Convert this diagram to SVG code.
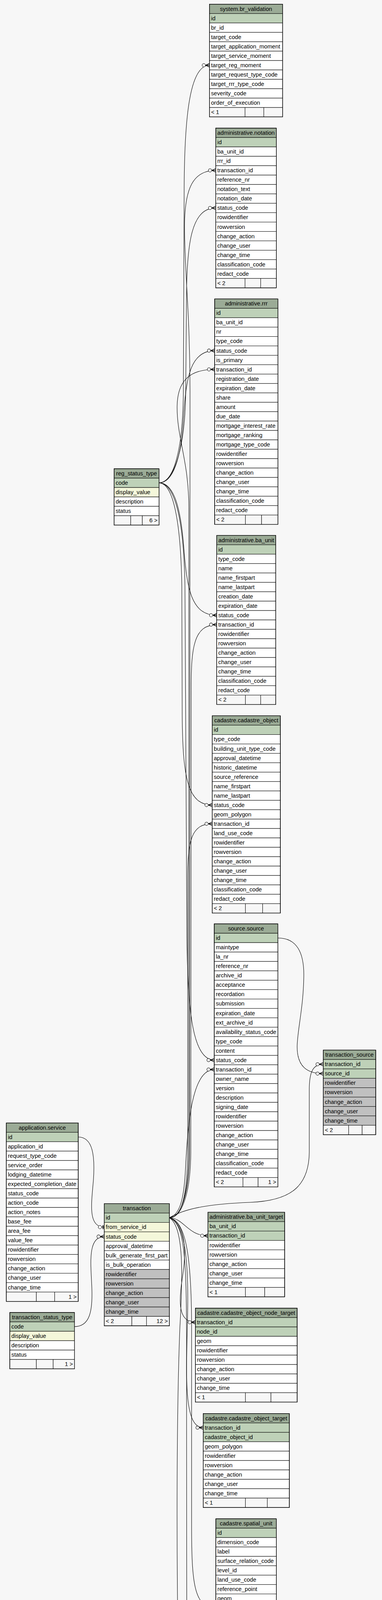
<svg xmlns="http://www.w3.org/2000/svg" width="977" height="5081" viewBox="0 0 977 5081">
<style>
text{font-family:"Liberation Sans",Arial,Helvetica,sans-serif;font-size:14.67px;fill:#000}
.c{text-anchor:middle}.r{text-anchor:end}
rect{stroke:#000;stroke-width:1}
.h{fill:#9bab96}.pk{fill:#bed1b8}.ix{fill:#f4f7da}.w{fill:#fff}.g{fill:#c0c0c0}.f{fill:#f7f7f7}
.o{fill:none;stroke:#000;stroke-width:1.4}
#edges path{fill:none;stroke:#000;stroke-width:1.1}
.cf{marker-end:url(#crow)}.te{marker-end:url(#tee)}
</style>
<defs>
<marker id="crow" markerUnits="userSpaceOnUse" markerWidth="24" markerHeight="12" viewBox="-20 -6 24 12" refX="0" refY="0" orient="auto" overflow="visible">
<path d="M-10,0L0,-4.5M-10,0L0,0M-10,0L0,4.5" fill="none" stroke="#000" stroke-width="1.4"/>
<circle cx="-14.5" cy="0" r="4.2" fill="#fff" stroke="#000" stroke-width="1.1"/>
</marker>
<marker id="tee" markerUnits="userSpaceOnUse" markerWidth="24" markerHeight="12" viewBox="-20 -6 24 12" refX="0" refY="0" orient="auto" overflow="visible">
<path d="M-3,-5V5" fill="none" stroke="#000" stroke-width="2.2"/>
<circle cx="-11" cy="0" r="4.2" fill="#fff" stroke="#000" stroke-width="1.1"/>
</marker>
</defs>
<rect x="0" y="0" width="977" height="5081" fill="#f7f7f7" style="stroke:none"/>

<g id="edges">
<path class="cf" d="M406.7,1236.1C445,1236 468,1150 469,1000L471,480C472,300 485,167 535.7,167"/>
<path class="cf" d="M406.7,1236.1C447,1236 474,1140 475,1000L477,760C478,620 490,532.4 551.7,532.4"/>
<path class="cf" d="M406.7,1236.1C450,1236 465,1150 470,1060C476,960 490,897.6 549,897.6"/>
<path class="cf" d="M406.7,1236.1C445,1236 462,1300 470,1400C478,1510 490,1575 554.3,1575"/>
<path class="cf" d="M406.7,1236.1C440,1236 462,1320 465,1500L466,1830C467,1990 480,2060.9 542.7,2060.9"/>
<path class="cf" d="M406.7,1236.1C445,1236 470,1320 473,1500L478,2400C480,2600 495,2713.8 547.9,2713.8"/>
<path class="cf" d="M433.3,3117.5C462,3117 484,3060 485,2950L486,1000C486,800 472,700 472,580C472,480 495,436.2 551.7,436.2"/>
<path class="cf" d="M433.3,3117.5C463,3117 482,3060 483,2950L483,1300C483,1180 452,1120 453,1040C454,970 490,945.7 549,945.7"/>
<path class="cf" d="M433.3,3117.5C464,3117 487,3060 488,2950L489,1760C489,1660 495,1599.1 554.3,1599.1"/>
<path class="cf" d="M433.3,3117.5C465,3117 479,3060 480,2950L480,2250C480,2150 490,2108.9 542.7,2108.9"/>
<path class="cf" d="M433.3,3117.5C460,3110 470,3070 474,3000C480,2880 490,2737.9 547.9,2737.9"/>
<path class="cf" d="M433.3,3117.5C475,3092 540,3082 640,3078C740,3074 790,3040 791,2950L791,2790C791,2745 800,2724.4 826.7,2724.4"/>
<path class="cf" d="M433.3,3117.5C470,3118 480,3163.5 531.7,3163.5"/>
<path class="cf" d="M433.3,3117.5C470,3128 478,3190 468,3260C459,3320 450,3385 499.7,3385"/>
<path class="cf" d="M433.3,3117.5C468,3130 482,3200 480,3350C478,3500 465,3654.8 519.7,3654.8"/>
<path class="cf" d="M433.3,3117.5C472,3125 490,3200 490,3400L490,3900C490,4050 495,4116.6 552,4116.6"/>
<path class="cf" d="M433.3,3117.5C470,3140 468,3260 460,3400C452,3600 452,3900 454,4100C456,4280 465,4361.8 502.7,4361.8"/>
<path class="cf" d="M433.3,3117.5C468,3130 477,3200 477,3400L478,4600C479,4700 495,4750.4 553.6,4750.4"/>
<path class="te" d="M200.1,2910.8C238,2911 243,2960 239,3020C234,3080 224,3141.5 266.6,3141.5"/>
<path class="cf" d="M190.5,3396.1C228,3396 237,3360 235,3300C233,3240 222,3165.6 266.6,3165.6"/>
<path class="cf" d="M710.6,2401.2C760,2401 778,2440 777,2500C776,2580 760,2640 760,2680C760,2730 785,2748.4 826.7,2748.4"/>
</g>

<g id="system.br_validation" transform="translate(535.7,10.7)">
<rect class="h" x="0" y="0" width="187" height="24.05"/><text class="c" x="93.5" y="17">system.br_validation</text>
<rect class="pk" x="0" y="24.05" width="187" height="24.05"/><text x="4" y="41.05">id</text>
<rect class="w" x="0" y="48.1" width="187" height="24.05"/><text x="4" y="65.1">br_id</text>
<rect class="w" x="0" y="72.15" width="187" height="24.05"/><text x="4" y="89.15">target_code</text>
<rect class="w" x="0" y="96.2" width="187" height="24.05"/><text x="4" y="113.2">target_application_moment</text>
<rect class="w" x="0" y="120.25" width="187" height="24.05"/><text x="4" y="137.25">target_service_moment</text>
<rect class="w" x="0" y="144.3" width="187" height="24.05"/><text x="4" y="161.3">target_reg_moment</text>
<rect class="w" x="0" y="168.35" width="187" height="24.05"/><text x="4" y="185.35">target_request_type_code</text>
<rect class="w" x="0" y="192.4" width="187" height="24.05"/><text x="4" y="209.4">target_rrr_type_code</text>
<rect class="w" x="0" y="216.45" width="187" height="24.05"/><text x="4" y="233.45">severity_code</text>
<rect class="w" x="0" y="240.5" width="187" height="24.05"/><text x="4" y="257.5">order_of_execution</text>
<rect class="f" x="0" y="264.55" width="91" height="24.05"/><rect class="f" x="91" y="264.55" width="48" height="24.05"/><rect class="f" x="139" y="264.55" width="48" height="24.05"/><text x="4" y="281.55">&lt; 1</text>
<rect class="o" x="0" y="0" width="187" height="288.6"/>
</g>

<g id="administrative.notation" transform="translate(551.7,328)">
<rect class="h" x="0" y="0" width="155" height="24.05"/><text class="c" x="77.5" y="17">administrative.notation</text>
<rect class="pk" x="0" y="24.05" width="155" height="24.05"/><text x="4" y="41.05">id</text>
<rect class="w" x="0" y="48.1" width="155" height="24.05"/><text x="4" y="65.1">ba_unit_id</text>
<rect class="w" x="0" y="72.15" width="155" height="24.05"/><text x="4" y="89.15">rrr_id</text>
<rect class="w" x="0" y="96.2" width="155" height="24.05"/><text x="4" y="113.2">transaction_id</text>
<rect class="w" x="0" y="120.25" width="155" height="24.05"/><text x="4" y="137.25">reference_nr</text>
<rect class="w" x="0" y="144.3" width="155" height="24.05"/><text x="4" y="161.3">notation_text</text>
<rect class="w" x="0" y="168.35" width="155" height="24.05"/><text x="4" y="185.35">notation_date</text>
<rect class="w" x="0" y="192.4" width="155" height="24.05"/><text x="4" y="209.4">status_code</text>
<rect class="w" x="0" y="216.45" width="155" height="24.05"/><text x="4" y="233.45">rowidentifier</text>
<rect class="w" x="0" y="240.5" width="155" height="24.05"/><text x="4" y="257.5">rowversion</text>
<rect class="w" x="0" y="264.55" width="155" height="24.05"/><text x="4" y="281.55">change_action</text>
<rect class="w" x="0" y="288.6" width="155" height="24.05"/><text x="4" y="305.6">change_user</text>
<rect class="w" x="0" y="312.65" width="155" height="24.05"/><text x="4" y="329.65">change_time</text>
<rect class="w" x="0" y="336.7" width="155" height="24.05"/><text x="4" y="353.7">classification_code</text>
<rect class="w" x="0" y="360.75" width="155" height="24.05"/><text x="4" y="377.75">redact_code</text>
<rect class="f" x="0" y="384.8" width="75" height="24.05"/><rect class="f" x="75" y="384.8" width="40" height="24.05"/><rect class="f" x="115" y="384.8" width="40" height="24.05"/><text x="4" y="401.8">&lt; 2</text>
<rect class="o" x="0" y="0" width="155" height="408.85"/>
</g>

<g id="administrative.rrr" transform="translate(549,765.3)">
<rect class="h" x="0" y="0" width="161.7" height="24.05"/><text class="c" x="80.85" y="17">administrative.rrr</text>
<rect class="pk" x="0" y="24.05" width="161.7" height="24.05"/><text x="4" y="41.05">id</text>
<rect class="w" x="0" y="48.1" width="161.7" height="24.05"/><text x="4" y="65.1">ba_unit_id</text>
<rect class="w" x="0" y="72.15" width="161.7" height="24.05"/><text x="4" y="89.15">nr</text>
<rect class="w" x="0" y="96.2" width="161.7" height="24.05"/><text x="4" y="113.2">type_code</text>
<rect class="w" x="0" y="120.25" width="161.7" height="24.05"/><text x="4" y="137.25">status_code</text>
<rect class="w" x="0" y="144.3" width="161.7" height="24.05"/><text x="4" y="161.3">is_primary</text>
<rect class="w" x="0" y="168.35" width="161.7" height="24.05"/><text x="4" y="185.35">transaction_id</text>
<rect class="w" x="0" y="192.4" width="161.7" height="24.05"/><text x="4" y="209.4">registration_date</text>
<rect class="w" x="0" y="216.45" width="161.7" height="24.05"/><text x="4" y="233.45">expiration_date</text>
<rect class="w" x="0" y="240.5" width="161.7" height="24.05"/><text x="4" y="257.5">share</text>
<rect class="w" x="0" y="264.55" width="161.7" height="24.05"/><text x="4" y="281.55">amount</text>
<rect class="w" x="0" y="288.6" width="161.7" height="24.05"/><text x="4" y="305.6">due_date</text>
<rect class="w" x="0" y="312.65" width="161.7" height="24.05"/><text x="4" y="329.65">mortgage_interest_rate</text>
<rect class="w" x="0" y="336.7" width="161.7" height="24.05"/><text x="4" y="353.7">mortgage_ranking</text>
<rect class="w" x="0" y="360.75" width="161.7" height="24.05"/><text x="4" y="377.75">mortgage_type_code</text>
<rect class="w" x="0" y="384.8" width="161.7" height="24.05"/><text x="4" y="401.8">rowidentifier</text>
<rect class="w" x="0" y="408.85" width="161.7" height="24.05"/><text x="4" y="425.85">rowversion</text>
<rect class="w" x="0" y="432.9" width="161.7" height="24.05"/><text x="4" y="449.9">change_action</text>
<rect class="w" x="0" y="456.95" width="161.7" height="24.05"/><text x="4" y="473.95">change_user</text>
<rect class="w" x="0" y="481" width="161.7" height="24.05"/><text x="4" y="498">change_time</text>
<rect class="w" x="0" y="505.05" width="161.7" height="24.05"/><text x="4" y="522.05">classification_code</text>
<rect class="w" x="0" y="529.1" width="161.7" height="24.05"/><text x="4" y="546.1">redact_code</text>
<rect class="f" x="0" y="553.15" width="78.7" height="24.05"/><rect class="f" x="78.7" y="553.15" width="41.3" height="24.05"/><rect class="f" x="120" y="553.15" width="41.7" height="24.05"/><text x="4" y="570.15">&lt; 2</text>
<rect class="o" x="0" y="0" width="161.7" height="577.2"/>
</g>

<g id="reg_status_type" transform="translate(291.7,1200)">
<rect class="h" x="0" y="0" width="115" height="24.05"/><text class="c" x="57.5" y="17">reg_status_type</text>
<rect class="pk" x="0" y="24.05" width="115" height="24.05"/><text x="4" y="41.05">code</text>
<rect class="ix" x="0" y="48.1" width="115" height="24.05"/><text x="4" y="65.1">display_value</text>
<rect class="w" x="0" y="72.15" width="115" height="24.05"/><text x="4" y="89.15">description</text>
<rect class="w" x="0" y="96.2" width="115" height="24.05"/><text x="4" y="113.2">status</text>
<rect class="f" x="0" y="120.25" width="42.6" height="24.05"/><rect class="f" x="42.6" y="120.25" width="29.7" height="24.05"/><rect class="f" x="72.3" y="120.25" width="42.7" height="24.05"/><text class="r" x="111" y="137.25">6 &gt;</text>
<rect class="o" x="0" y="0" width="115" height="144.3"/>
</g>

<g id="administrative.ba_unit" transform="translate(554.3,1370.6)">
<rect class="h" x="0" y="0" width="151" height="24.05"/><text class="c" x="75.5" y="17">administrative.ba_unit</text>
<rect class="pk" x="0" y="24.05" width="151" height="24.05"/><text x="4" y="41.05">id</text>
<rect class="w" x="0" y="48.1" width="151" height="24.05"/><text x="4" y="65.1">type_code</text>
<rect class="w" x="0" y="72.15" width="151" height="24.05"/><text x="4" y="89.15">name</text>
<rect class="w" x="0" y="96.2" width="151" height="24.05"/><text x="4" y="113.2">name_firstpart</text>
<rect class="w" x="0" y="120.25" width="151" height="24.05"/><text x="4" y="137.25">name_lastpart</text>
<rect class="w" x="0" y="144.3" width="151" height="24.05"/><text x="4" y="161.3">creation_date</text>
<rect class="w" x="0" y="168.35" width="151" height="24.05"/><text x="4" y="185.35">expiration_date</text>
<rect class="w" x="0" y="192.4" width="151" height="24.05"/><text x="4" y="209.4">status_code</text>
<rect class="w" x="0" y="216.45" width="151" height="24.05"/><text x="4" y="233.45">transaction_id</text>
<rect class="w" x="0" y="240.5" width="151" height="24.05"/><text x="4" y="257.5">rowidentifier</text>
<rect class="w" x="0" y="264.55" width="151" height="24.05"/><text x="4" y="281.55">rowversion</text>
<rect class="w" x="0" y="288.6" width="151" height="24.05"/><text x="4" y="305.6">change_action</text>
<rect class="w" x="0" y="312.65" width="151" height="24.05"/><text x="4" y="329.65">change_user</text>
<rect class="w" x="0" y="336.7" width="151" height="24.05"/><text x="4" y="353.7">change_time</text>
<rect class="w" x="0" y="360.75" width="151" height="24.05"/><text x="4" y="377.75">classification_code</text>
<rect class="w" x="0" y="384.8" width="151" height="24.05"/><text x="4" y="401.8">redact_code</text>
<rect class="f" x="0" y="408.85" width="73.4" height="24.05"/><rect class="f" x="73.4" y="408.85" width="39" height="24.05"/><rect class="f" x="112.4" y="408.85" width="38.6" height="24.05"/><text x="4" y="425.85">&lt; 2</text>
<rect class="o" x="0" y="0" width="151" height="432.9"/>
</g>

<g id="cadastre.cadastre_object" transform="translate(542.7,1832.4)">
<rect class="h" x="0" y="0" width="174.3" height="24.05"/><text class="c" x="87.15" y="17">cadastre.cadastre_object</text>
<rect class="pk" x="0" y="24.05" width="174.3" height="24.05"/><text x="4" y="41.05">id</text>
<rect class="w" x="0" y="48.1" width="174.3" height="24.05"/><text x="4" y="65.1">type_code</text>
<rect class="w" x="0" y="72.15" width="174.3" height="24.05"/><text x="4" y="89.15">building_unit_type_code</text>
<rect class="w" x="0" y="96.2" width="174.3" height="24.05"/><text x="4" y="113.2">approval_datetime</text>
<rect class="w" x="0" y="120.25" width="174.3" height="24.05"/><text x="4" y="137.25">historic_datetime</text>
<rect class="w" x="0" y="144.3" width="174.3" height="24.05"/><text x="4" y="161.3">source_reference</text>
<rect class="w" x="0" y="168.35" width="174.3" height="24.05"/><text x="4" y="185.35">name_firstpart</text>
<rect class="w" x="0" y="192.4" width="174.3" height="24.05"/><text x="4" y="209.4">name_lastpart</text>
<rect class="w" x="0" y="216.45" width="174.3" height="24.05"/><text x="4" y="233.45">status_code</text>
<rect class="w" x="0" y="240.5" width="174.3" height="24.05"/><text x="4" y="257.5">geom_polygon</text>
<rect class="w" x="0" y="264.55" width="174.3" height="24.05"/><text x="4" y="281.55">transaction_id</text>
<rect class="w" x="0" y="288.6" width="174.3" height="24.05"/><text x="4" y="305.6">land_use_code</text>
<rect class="w" x="0" y="312.65" width="174.3" height="24.05"/><text x="4" y="329.65">rowidentifier</text>
<rect class="w" x="0" y="336.7" width="174.3" height="24.05"/><text x="4" y="353.7">rowversion</text>
<rect class="w" x="0" y="360.75" width="174.3" height="24.05"/><text x="4" y="377.75">change_action</text>
<rect class="w" x="0" y="384.8" width="174.3" height="24.05"/><text x="4" y="401.8">change_user</text>
<rect class="w" x="0" y="408.85" width="174.3" height="24.05"/><text x="4" y="425.85">change_time</text>
<rect class="w" x="0" y="432.9" width="174.3" height="24.05"/><text x="4" y="449.9">classification_code</text>
<rect class="w" x="0" y="456.95" width="174.3" height="24.05"/><text x="4" y="473.95">redact_code</text>
<rect class="f" x="0" y="481" width="85" height="24.05"/><rect class="f" x="85" y="481" width="44" height="24.05"/><rect class="f" x="129" y="481" width="45.3" height="24.05"/><text x="4" y="498">&lt; 2</text>
<rect class="o" x="0" y="0" width="174.3" height="505.05"/>
</g>

<g id="source.source" transform="translate(547.9,2365.1)">
<rect class="h" x="0" y="0" width="162.7" height="24.05"/><text class="c" x="81.35" y="17">source.source</text>
<rect class="pk" x="0" y="24.05" width="162.7" height="24.05"/><text x="4" y="41.05">id</text>
<rect class="w" x="0" y="48.1" width="162.7" height="24.05"/><text x="4" y="65.1">maintype</text>
<rect class="w" x="0" y="72.15" width="162.7" height="24.05"/><text x="4" y="89.15">la_nr</text>
<rect class="w" x="0" y="96.2" width="162.7" height="24.05"/><text x="4" y="113.2">reference_nr</text>
<rect class="w" x="0" y="120.25" width="162.7" height="24.05"/><text x="4" y="137.25">archive_id</text>
<rect class="w" x="0" y="144.3" width="162.7" height="24.05"/><text x="4" y="161.3">acceptance</text>
<rect class="w" x="0" y="168.35" width="162.7" height="24.05"/><text x="4" y="185.35">recordation</text>
<rect class="w" x="0" y="192.4" width="162.7" height="24.05"/><text x="4" y="209.4">submission</text>
<rect class="w" x="0" y="216.45" width="162.7" height="24.05"/><text x="4" y="233.45">expiration_date</text>
<rect class="w" x="0" y="240.5" width="162.7" height="24.05"/><text x="4" y="257.5">ext_archive_id</text>
<rect class="w" x="0" y="264.55" width="162.7" height="24.05"/><text x="4" y="281.55">availability_status_code</text>
<rect class="w" x="0" y="288.6" width="162.7" height="24.05"/><text x="4" y="305.6">type_code</text>
<rect class="w" x="0" y="312.65" width="162.7" height="24.05"/><text x="4" y="329.65">content</text>
<rect class="w" x="0" y="336.7" width="162.7" height="24.05"/><text x="4" y="353.7">status_code</text>
<rect class="w" x="0" y="360.75" width="162.7" height="24.05"/><text x="4" y="377.75">transaction_id</text>
<rect class="w" x="0" y="384.8" width="162.7" height="24.05"/><text x="4" y="401.8">owner_name</text>
<rect class="w" x="0" y="408.85" width="162.7" height="24.05"/><text x="4" y="425.85">version</text>
<rect class="w" x="0" y="432.9" width="162.7" height="24.05"/><text x="4" y="449.9">description</text>
<rect class="w" x="0" y="456.95" width="162.7" height="24.05"/><text x="4" y="473.95">signing_date</text>
<rect class="w" x="0" y="481" width="162.7" height="24.05"/><text x="4" y="498">rowidentifier</text>
<rect class="w" x="0" y="505.05" width="162.7" height="24.05"/><text x="4" y="522.05">rowversion</text>
<rect class="w" x="0" y="529.1" width="162.7" height="24.05"/><text x="4" y="546.1">change_action</text>
<rect class="w" x="0" y="553.15" width="162.7" height="24.05"/><text x="4" y="570.15">change_user</text>
<rect class="w" x="0" y="577.2" width="162.7" height="24.05"/><text x="4" y="594.2">change_time</text>
<rect class="w" x="0" y="601.25" width="162.7" height="24.05"/><text x="4" y="618.25">classification_code</text>
<rect class="w" x="0" y="625.3" width="162.7" height="24.05"/><text x="4" y="642.3">redact_code</text>
<rect class="f" x="0" y="649.35" width="73.5" height="24.05"/><rect class="f" x="73.5" y="649.35" width="38.7" height="24.05"/><rect class="f" x="112.2" y="649.35" width="50.5" height="24.05"/><text x="4" y="666.35">&lt; 2</text><text class="r" x="158.7" y="666.35">1 &gt;</text>
<rect class="o" x="0" y="0" width="162.7" height="673.4"/>
</g>

<g id="transaction_source" transform="translate(826.7,2688.3)">
<rect class="h" x="0" y="0" width="134.3" height="24.05"/><text class="c" x="67.15" y="17">transaction_source</text>
<rect class="pk" x="0" y="24.05" width="134.3" height="24.05"/><text x="4" y="41.05">transaction_id</text>
<rect class="pk" x="0" y="48.1" width="134.3" height="24.05"/><text x="4" y="65.1">source_id</text>
<rect class="g" x="0" y="72.15" width="134.3" height="24.05"/><text x="4" y="89.15">rowidentifier</text>
<rect class="g" x="0" y="96.2" width="134.3" height="24.05"/><text x="4" y="113.2">rowversion</text>
<rect class="g" x="0" y="120.25" width="134.3" height="24.05"/><text x="4" y="137.25">change_action</text>
<rect class="g" x="0" y="144.3" width="134.3" height="24.05"/><text x="4" y="161.3">change_user</text>
<rect class="g" x="0" y="168.35" width="134.3" height="24.05"/><text x="4" y="185.35">change_time</text>
<rect class="f" x="0" y="192.4" width="65" height="24.05"/><rect class="f" x="65" y="192.4" width="34.5" height="24.05"/><rect class="f" x="99.5" y="192.4" width="34.8" height="24.05"/><text x="4" y="209.4">&lt; 2</text>
<rect class="o" x="0" y="0" width="134.3" height="216.45"/>
</g>

<g id="application.service" transform="translate(16.2,2874.7)">
<rect class="h" x="0" y="0" width="183.9" height="24.05"/><text class="c" x="91.95" y="17">application.service</text>
<rect class="pk" x="0" y="24.05" width="183.9" height="24.05"/><text x="4" y="41.05">id</text>
<rect class="w" x="0" y="48.1" width="183.9" height="24.05"/><text x="4" y="65.1">application_id</text>
<rect class="w" x="0" y="72.15" width="183.9" height="24.05"/><text x="4" y="89.15">request_type_code</text>
<rect class="w" x="0" y="96.2" width="183.9" height="24.05"/><text x="4" y="113.2">service_order</text>
<rect class="w" x="0" y="120.25" width="183.9" height="24.05"/><text x="4" y="137.25">lodging_datetime</text>
<rect class="w" x="0" y="144.3" width="183.9" height="24.05"/><text x="4" y="161.3">expected_completion_date</text>
<rect class="w" x="0" y="168.35" width="183.9" height="24.05"/><text x="4" y="185.35">status_code</text>
<rect class="w" x="0" y="192.4" width="183.9" height="24.05"/><text x="4" y="209.4">action_code</text>
<rect class="w" x="0" y="216.45" width="183.9" height="24.05"/><text x="4" y="233.45">action_notes</text>
<rect class="w" x="0" y="240.5" width="183.9" height="24.05"/><text x="4" y="257.5">base_fee</text>
<rect class="w" x="0" y="264.55" width="183.9" height="24.05"/><text x="4" y="281.55">area_fee</text>
<rect class="w" x="0" y="288.6" width="183.9" height="24.05"/><text x="4" y="305.6">value_fee</text>
<rect class="w" x="0" y="312.65" width="183.9" height="24.05"/><text x="4" y="329.65">rowidentifier</text>
<rect class="w" x="0" y="336.7" width="183.9" height="24.05"/><text x="4" y="353.7">rowversion</text>
<rect class="w" x="0" y="360.75" width="183.9" height="24.05"/><text x="4" y="377.75">change_action</text>
<rect class="w" x="0" y="384.8" width="183.9" height="24.05"/><text x="4" y="401.8">change_user</text>
<rect class="w" x="0" y="408.85" width="183.9" height="24.05"/><text x="4" y="425.85">change_time</text>
<rect class="f" x="0" y="432.9" width="76.8" height="24.05"/><rect class="f" x="76.8" y="432.9" width="46.8" height="24.05"/><rect class="f" x="123.6" y="432.9" width="60.3" height="24.05"/><text class="r" x="179.9" y="449.9">1 &gt;</text>
<rect class="o" x="0" y="0" width="183.9" height="456.95"/>
</g>

<g id="transaction_status_type" transform="translate(25.1,3360)">
<rect class="h" x="0" y="0" width="165.4" height="24.05"/><text class="c" x="82.7" y="17">transaction_status_type</text>
<rect class="pk" x="0" y="24.05" width="165.4" height="24.05"/><text x="4" y="41.05">code</text>
<rect class="ix" x="0" y="48.1" width="165.4" height="24.05"/><text x="4" y="65.1">display_value</text>
<rect class="w" x="0" y="72.15" width="165.4" height="24.05"/><text x="4" y="89.15">description</text>
<rect class="w" x="0" y="96.2" width="165.4" height="24.05"/><text x="4" y="113.2">status</text>
<rect class="f" x="0" y="120.25" width="67.9" height="24.05"/><rect class="f" x="67.9" y="120.25" width="43" height="24.05"/><rect class="f" x="110.9" y="120.25" width="54.5" height="24.05"/><text class="r" x="161.4" y="137.25">1 &gt;</text>
<rect class="o" x="0" y="0" width="165.4" height="144.3"/>
</g>

<g id="transaction" transform="translate(266.6,3081.4)">
<rect class="h" x="0" y="0" width="166.7" height="24.05"/><text class="c" x="83.35" y="17">transaction</text>
<rect class="pk" x="0" y="24.05" width="166.7" height="24.05"/><text x="4" y="41.05">id</text>
<rect class="ix" x="0" y="48.1" width="166.7" height="24.05"/><text x="4" y="65.1">from_service_id</text>
<rect class="ix" x="0" y="72.15" width="166.7" height="24.05"/><text x="4" y="89.15">status_code</text>
<rect class="w" x="0" y="96.2" width="166.7" height="24.05"/><text x="4" y="113.2">approval_datetime</text>
<rect class="w" x="0" y="120.25" width="166.7" height="24.05"/><text x="4" y="137.25">bulk_generate_first_part</text>
<rect class="w" x="0" y="144.3" width="166.7" height="24.05"/><text x="4" y="161.3">is_bulk_operation</text>
<rect class="g" x="0" y="168.35" width="166.7" height="24.05"/><text x="4" y="185.35">rowidentifier</text>
<rect class="g" x="0" y="192.4" width="166.7" height="24.05"/><text x="4" y="209.4">rowversion</text>
<rect class="g" x="0" y="216.45" width="166.7" height="24.05"/><text x="4" y="233.45">change_action</text>
<rect class="g" x="0" y="240.5" width="166.7" height="24.05"/><text x="4" y="257.5">change_user</text>
<rect class="g" x="0" y="264.55" width="166.7" height="24.05"/><text x="4" y="281.55">change_time</text>
<rect class="f" x="0" y="288.6" width="70.6" height="24.05"/><rect class="f" x="70.6" y="288.6" width="37.5" height="24.05"/><rect class="f" x="108.1" y="288.6" width="58.6" height="24.05"/><text x="4" y="305.6">&lt; 2</text><text class="r" x="162.7" y="305.6">12 &gt;</text>
<rect class="o" x="0" y="0" width="166.7" height="312.65"/>
</g>

<g id="administrative.ba_unit_target" transform="translate(531.7,3103.4)">
<rect class="h" x="0" y="0" width="196.3" height="24.05"/><text class="c" x="98.15" y="17">administrative.ba_unit_target</text>
<rect class="pk" x="0" y="24.05" width="196.3" height="24.05"/><text x="4" y="41.05">ba_unit_id</text>
<rect class="pk" x="0" y="48.1" width="196.3" height="24.05"/><text x="4" y="65.1">transaction_id</text>
<rect class="w" x="0" y="72.15" width="196.3" height="24.05"/><text x="4" y="89.15">rowidentifier</text>
<rect class="w" x="0" y="96.2" width="196.3" height="24.05"/><text x="4" y="113.2">rowversion</text>
<rect class="w" x="0" y="120.25" width="196.3" height="24.05"/><text x="4" y="137.25">change_action</text>
<rect class="w" x="0" y="144.3" width="196.3" height="24.05"/><text x="4" y="161.3">change_user</text>
<rect class="w" x="0" y="168.35" width="196.3" height="24.05"/><text x="4" y="185.35">change_time</text>
<rect class="f" x="0" y="192.4" width="96" height="24.05"/><rect class="f" x="96" y="192.4" width="49.3" height="24.05"/><rect class="f" x="145.3" y="192.4" width="51" height="24.05"/><text x="4" y="209.4">&lt; 1</text>
<rect class="o" x="0" y="0" width="196.3" height="216.45"/>
</g>

<g id="cadastre.cadastre_object_node_target" transform="translate(499.7,3348.9)">
<rect class="h" x="0" y="0" width="260.3" height="24.05"/><text class="c" x="130.15" y="17">cadastre.cadastre_object_node_target</text>
<rect class="pk" x="0" y="24.05" width="260.3" height="24.05"/><text x="4" y="41.05">transaction_id</text>
<rect class="pk" x="0" y="48.1" width="260.3" height="24.05"/><text x="4" y="65.1">node_id</text>
<rect class="w" x="0" y="72.15" width="260.3" height="24.05"/><text x="4" y="89.15">geom</text>
<rect class="w" x="0" y="96.2" width="260.3" height="24.05"/><text x="4" y="113.2">rowidentifier</text>
<rect class="w" x="0" y="120.25" width="260.3" height="24.05"/><text x="4" y="137.25">rowversion</text>
<rect class="w" x="0" y="144.3" width="260.3" height="24.05"/><text x="4" y="161.3">change_action</text>
<rect class="w" x="0" y="168.35" width="260.3" height="24.05"/><text x="4" y="185.35">change_user</text>
<rect class="w" x="0" y="192.4" width="260.3" height="24.05"/><text x="4" y="209.4">change_time</text>
<rect class="f" x="0" y="216.45" width="128" height="24.05"/><rect class="f" x="128" y="216.45" width="65.3" height="24.05"/><rect class="f" x="193.3" y="216.45" width="67" height="24.05"/><text x="4" y="233.45">&lt; 1</text>
<rect class="o" x="0" y="0" width="260.3" height="240.5"/>
</g>

<g id="cadastre.cadastre_object_target" transform="translate(519.7,3618.7)">
<rect class="h" x="0" y="0" width="220.3" height="24.05"/><text class="c" x="110.15" y="17">cadastre.cadastre_object_target</text>
<rect class="pk" x="0" y="24.05" width="220.3" height="24.05"/><text x="4" y="41.05">transaction_id</text>
<rect class="pk" x="0" y="48.1" width="220.3" height="24.05"/><text x="4" y="65.1">cadastre_object_id</text>
<rect class="w" x="0" y="72.15" width="220.3" height="24.05"/><text x="4" y="89.15">geom_polygon</text>
<rect class="w" x="0" y="96.2" width="220.3" height="24.05"/><text x="4" y="113.2">rowidentifier</text>
<rect class="w" x="0" y="120.25" width="220.3" height="24.05"/><text x="4" y="137.25">rowversion</text>
<rect class="w" x="0" y="144.3" width="220.3" height="24.05"/><text x="4" y="161.3">change_action</text>
<rect class="w" x="0" y="168.35" width="220.3" height="24.05"/><text x="4" y="185.35">change_user</text>
<rect class="w" x="0" y="192.4" width="220.3" height="24.05"/><text x="4" y="209.4">change_time</text>
<rect class="f" x="0" y="216.45" width="108" height="24.05"/><rect class="f" x="108" y="216.45" width="56" height="24.05"/><rect class="f" x="164" y="216.45" width="56.3" height="24.05"/><text x="4" y="233.45">&lt; 1</text>
<rect class="o" x="0" y="0" width="220.3" height="240.5"/>
</g>

<g id="cadastre.spatial_unit" transform="translate(552,3888.1)">
<rect class="h" x="0" y="0" width="154.7" height="24.05"/><text class="c" x="77.35" y="17">cadastre.spatial_unit</text>
<rect class="pk" x="0" y="24.05" width="154.7" height="24.05"/><text x="4" y="41.05">id</text>
<rect class="w" x="0" y="48.1" width="154.7" height="24.05"/><text x="4" y="65.1">dimension_code</text>
<rect class="w" x="0" y="72.15" width="154.7" height="24.05"/><text x="4" y="89.15">label</text>
<rect class="w" x="0" y="96.2" width="154.7" height="24.05"/><text x="4" y="113.2">surface_relation_code</text>
<rect class="w" x="0" y="120.25" width="154.7" height="24.05"/><text x="4" y="137.25">level_id</text>
<rect class="w" x="0" y="144.3" width="154.7" height="24.05"/><text x="4" y="161.3">land_use_code</text>
<rect class="w" x="0" y="168.35" width="154.7" height="24.05"/><text x="4" y="185.35">reference_point</text>
<rect class="w" x="0" y="192.4" width="154.7" height="24.05"/><text x="4" y="209.4">geom</text>
<rect class="w" x="0" y="216.45" width="154.7" height="24.05"/><text x="4" y="233.45">transaction_id</text>
<rect class="w" x="0" y="240.5" width="154.7" height="24.05"/><text x="4" y="257.5">rowidentifier</text>
<rect class="w" x="0" y="264.55" width="154.7" height="24.05"/><text x="4" y="281.55">rowversion</text>
<rect class="w" x="0" y="288.6" width="154.7" height="24.05"/><text x="4" y="305.6">change_action</text>
<rect class="w" x="0" y="312.65" width="154.7" height="24.05"/><text x="4" y="329.65">change_user</text>
<rect class="w" x="0" y="336.7" width="154.7" height="24.05"/><text x="4" y="353.7">change_time</text>
<rect class="f" x="0" y="360.75" width="74.7" height="24.05"/><rect class="f" x="74.7" y="360.75" width="40" height="24.05"/><rect class="f" x="114.7" y="360.75" width="40" height="24.05"/><text x="4" y="377.75">&lt; 1</text>
<rect class="o" x="0" y="0" width="154.7" height="384.8"/>
</g>

<g id="bulk_operation.spatial_unit_temporary" transform="translate(502.7,4301.7)">
<rect class="h" x="0" y="0" width="254.6" height="24.05"/><text class="c" x="127.3" y="17">bulk_operation.spatial_unit_temporary</text>
<rect class="pk" x="0" y="24.05" width="254.6" height="24.05"/><text x="4" y="41.05">id</text>
<rect class="w" x="0" y="48.1" width="254.6" height="24.05"/><text x="4" y="65.1">transaction_id</text>
<rect class="w" x="0" y="72.15" width="254.6" height="24.05"/><text x="4" y="89.15">type_code</text>
<rect class="w" x="0" y="96.2" width="254.6" height="24.05"/><text x="4" y="113.2">cadastre_object_type_code</text>
<rect class="w" x="0" y="120.25" width="254.6" height="24.05"/><text x="4" y="137.25">name_firstpart</text>
<rect class="w" x="0" y="144.3" width="254.6" height="24.05"/><text x="4" y="161.3">name_lastpart</text>
<rect class="w" x="0" y="168.35" width="254.6" height="24.05"/><text x="4" y="185.35">geom</text>
<rect class="w" x="0" y="192.4" width="254.6" height="24.05"/><text x="4" y="209.4">official_area</text>
<rect class="w" x="0" y="216.45" width="254.6" height="24.05"/><text x="4" y="233.45">label</text>
<rect class="w" x="0" y="240.5" width="254.6" height="24.05"/><text x="4" y="257.5">rowidentifier</text>
<rect class="w" x="0" y="264.55" width="254.6" height="24.05"/><text x="4" y="281.55">rowversion</text>
<rect class="w" x="0" y="288.6" width="254.6" height="24.05"/><text x="4" y="305.6">change_action</text>
<rect class="w" x="0" y="312.65" width="254.6" height="24.05"/><text x="4" y="329.65">change_user</text>
<rect class="w" x="0" y="336.7" width="254.6" height="24.05"/><text x="4" y="353.7">change_time</text>
<rect class="f" x="0" y="360.75" width="125" height="24.05"/><rect class="f" x="125" y="360.75" width="64" height="24.05"/><rect class="f" x="189" y="360.75" width="65.6" height="24.05"/><text x="4" y="377.75">&lt; 1</text>
<rect class="o" x="0" y="0" width="254.6" height="384.8"/>
</g>

<g id="cadastre.survey_point" transform="translate(553.6,4714.3)">
<rect class="h" x="0" y="0" width="152.7" height="24.05"/><text class="c" x="76.35" y="17">cadastre.survey_point</text>
<rect class="pk" x="0" y="24.05" width="152.7" height="24.05"/><text x="4" y="41.05">transaction_id</text>
<rect class="pk" x="0" y="48.1" width="152.7" height="24.05"/><text x="4" y="65.1">id</text>
<rect class="w" x="0" y="72.15" width="152.7" height="24.05"/><text x="4" y="89.15">boundary</text>
<rect class="w" x="0" y="96.2" width="152.7" height="24.05"/><text x="4" y="113.2">linked</text>
<rect class="w" x="0" y="120.25" width="152.7" height="24.05"/><text x="4" y="137.25">geom</text>
<rect class="w" x="0" y="144.3" width="152.7" height="24.05"/><text x="4" y="161.3">original_geom</text>
<rect class="w" x="0" y="168.35" width="152.7" height="24.05"/><text x="4" y="185.35">rowidentifier</text>
<rect class="w" x="0" y="192.4" width="152.7" height="24.05"/><text x="4" y="209.4">rowversion</text>
<rect class="w" x="0" y="216.45" width="152.7" height="24.05"/><text x="4" y="233.45">change_action</text>
<rect class="w" x="0" y="240.5" width="152.7" height="24.05"/><text x="4" y="257.5">change_user</text>
<rect class="w" x="0" y="264.55" width="152.7" height="24.05"/><text x="4" y="281.55">change_time</text>
<rect class="f" x="0" y="288.6" width="74.1" height="24.05"/><rect class="f" x="74.1" y="288.6" width="38.8" height="24.05"/><rect class="f" x="112.9" y="288.6" width="39.8" height="24.05"/><text x="4" y="305.6">&lt; 1</text>
<rect class="o" x="0" y="0" width="152.7" height="312.65"/>
</g>

<text x="16.4" y="5066">Generated by SchemaSpy</text>
</svg>
